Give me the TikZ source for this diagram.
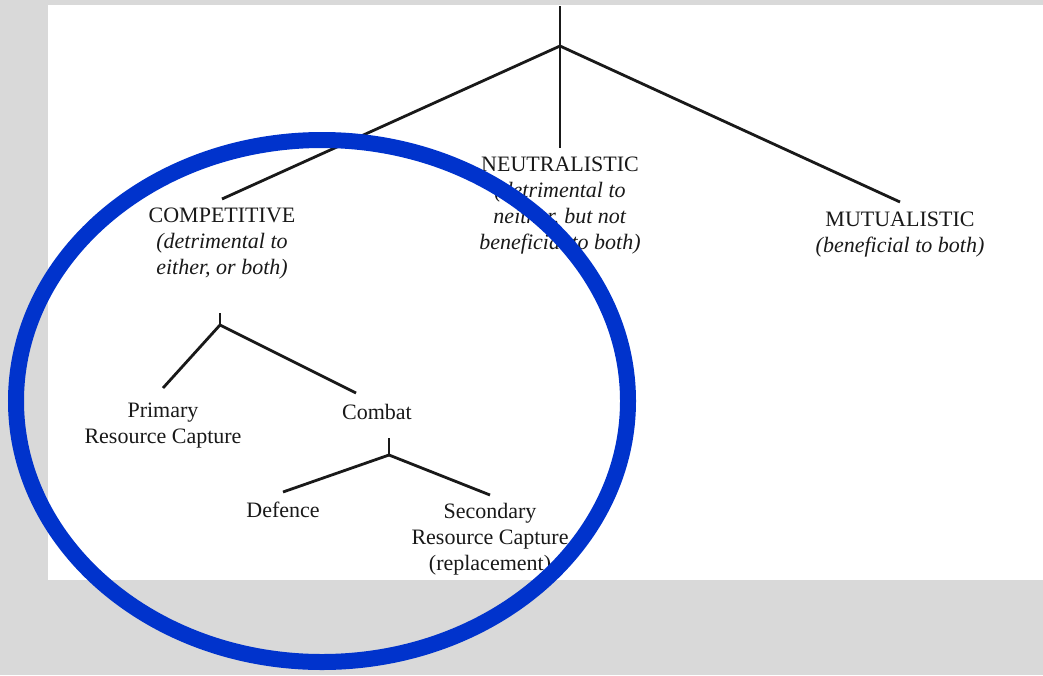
\documentclass[tikz,border=0pt]{standalone}
\usepackage{fontspec}
\setmainfont{Liberation Serif}
\definecolor{bggray}{RGB}{217,217,217}
\definecolor{ringblue}{RGB}{0,51,204}
\definecolor{ink}{RGB}{25,25,25}
\tikzset{
  branch/.style={line width=2.8pt, draw=ink},
  tnode/.style={inner sep=0pt, outer sep=#1, anchor=north, align=center, text=ink,
                font=\fontsize{22}{26}\selectfont},
  tnode/.default=9pt,
  ring/.style={draw=ringblue, line width=16pt}
}
\begin{document}
\begin{tikzpicture}[x=1pt, y=-1pt]
\useasboundingbox (0,0) rectangle (1043,675);
\fill[bggray] (0,0) rectangle (1043,675);
\fill[white] (48,5) rectangle (1043,580);

% top level
\coordinate (top) at (560,6);
\coordinate (root) at (560,46);
\node[tnode=9pt] (comp) at (222,199) {COMPETITIVE\\\textit{(detrimental to}\\\textit{either, or both)}};
\node[tnode=9pt] (neut) at (560,148) {NEUTRALISTIC\\\textit{(detrimental to}\\\textit{neither, but not}\\\textit{beneficial to both)}};
\node[tnode=10pt] (mutu) at (900,202) {MUTUALISTIC\\\textit{(beneficial to both)}};
\draw[branch] (top) -- (root);
\draw[branch] (root) -- (comp.north);
\draw[branch] (root) -- (neut.north);
\draw[branch] (root) -- (mutu.north);

% competitive subtree
\coordinate (cstub) at (220,313);
\coordinate (cjun) at (220,325);
\node[tnode=15pt] (prim) at (163,388) {Primary\\Resource Capture};
\node[tnode=11pt] (comb) at (377,393) {Combat};
\draw[branch] (cstub) -- (cjun);
\draw[branch] (cjun) -- (prim.north);
\draw[branch] (cjun) -- ([xshift=-21pt]comb.north);

% combat subtree
\coordinate (bstub) at (389,438);
\coordinate (bjun) at (389,455);
\node[tnode=10pt] (defe) at (283,492) {Defence};
\node[tnode=8pt] (seco) at (490,495) {Secondary\\Resource Capture\\(replacement)};
\draw[branch] (bstub) -- (bjun);
\draw[branch] (bjun) -- (defe.north);
\draw[branch] (bjun) -- (seco.north);

% highlight ring
\draw[ring] (322,401) ellipse [x radius=306, y radius=261];
\end{tikzpicture}
\end{document}
